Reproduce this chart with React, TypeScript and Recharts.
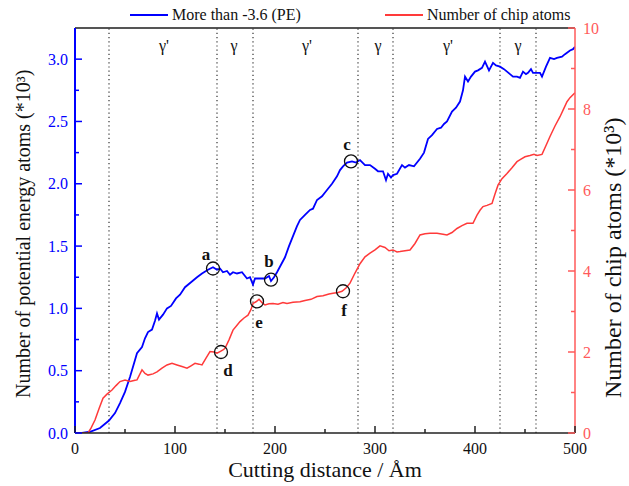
import React from "react";
import {
  LineChart,
  Line,
  XAxis,
  YAxis,
  ReferenceLine,
  ReferenceDot,
  Legend,
} from "recharts";

// cutting distance (Å) vs PE atoms (*10^3), left axis
const peDistance = [
  0, 7, 15, 25, 34, 40, 45, 50, 55, 62, 67, 70, 73, 77, 80, 82, 84, 88, 92, 96,
  101, 105, 110, 116, 122, 127, 133, 138, 142, 145, 148, 152, 155, 158, 162,
  167, 170, 172, 175, 178, 180, 185, 190, 194, 196, 199, 202, 206, 210, 214,
  218, 222, 225, 230, 235, 238, 242, 247, 252, 257, 262, 265, 268, 272, 277,
  281, 285, 290, 295, 300, 303, 308, 311, 313, 316, 318, 322, 327, 330, 334,
  339, 345, 349, 353, 357, 362, 366, 369, 372, 377, 381, 385, 388, 390, 393,
  396, 400, 403, 407, 410, 414, 418, 421, 425, 429, 432, 435, 438, 442, 445,
  448, 451, 453, 456, 458, 460, 465, 467, 471, 475, 479, 482, 487, 490, 495,
  498, 500,
];
const peAtoms = [
  0, 0, 0.01, 0.04, 0.1, 0.16, 0.24, 0.33, 0.45, 0.64, 0.69, 0.76, 0.81, 0.83,
  0.9, 0.96, 0.91, 0.95, 1.0, 1.02, 1.08, 1.11, 1.17, 1.21, 1.25, 1.28, 1.31,
  1.33, 1.31, 1.32, 1.29, 1.3, 1.27, 1.29, 1.28, 1.29, 1.26, 1.24, 1.25, 1.19,
  1.24, 1.24, 1.24, 1.26, 1.22, 1.25, 1.29, 1.35, 1.41, 1.5, 1.58, 1.66, 1.71,
  1.75, 1.79, 1.8, 1.87, 1.9, 1.95, 2.0, 2.06, 2.11, 2.14, 2.17, 2.18, 2.17,
  2.19, 2.15, 2.15, 2.12, 2.1, 2.1, 2.03, 2.08, 2.05, 2.07, 2.08, 2.15, 2.13,
  2.15, 2.14, 2.2, 2.25, 2.36, 2.39, 2.44, 2.45, 2.48, 2.5, 2.58, 2.61, 2.66,
  2.75, 2.86, 2.82, 2.86, 2.9, 2.91, 2.93, 2.98, 2.91, 2.97, 2.95, 2.94, 2.92,
  2.9, 2.88, 2.86, 2.86, 2.85, 2.9, 2.88, 2.89, 2.92, 2.89, 2.89, 2.89, 2.86,
  2.94, 3.01, 3.0, 3.01, 3.02, 3.04, 3.07, 3.08, 3.1,
];

// cutting distance (Å) vs chip atoms (*10^3), right axis
const chipDistance = [
  0, 13, 16, 20, 24, 28, 32, 37, 41, 45, 50, 55, 60, 62, 67, 70, 73, 78, 82, 87,
  92, 97, 102, 107, 112, 116, 120, 124, 127, 131, 135, 139, 142, 145, 148, 150,
  154, 158, 162, 165, 169, 173, 176, 178, 181, 184, 187, 190, 194, 198, 203,
  208, 212, 218, 225, 230, 236, 242, 248, 254, 258, 263, 267, 271, 275, 280,
  285, 290, 295, 300, 305, 310, 314, 318, 322, 325, 330, 335, 340, 345, 350,
  355, 362, 368, 372, 377, 382, 387, 392, 398, 402, 405, 408, 412, 417, 420,
  423, 427, 432, 437, 442, 446, 450, 455, 459, 462, 467, 471, 475, 480, 485,
  489, 492, 495, 500,
];
const chipAtoms = [
  0, 0, 0.12, 0.32, 0.6, 0.86, 0.96, 1.06, 1.17, 1.27, 1.31, 1.27, 1.3, 1.31,
  1.56, 1.47, 1.43, 1.46, 1.51, 1.6, 1.68, 1.72, 1.68, 1.64, 1.6, 1.66, 1.72,
  1.7, 1.68, 1.85, 2.01, 2.0, 1.97, 2.01, 2.05, 2.09, 2.3, 2.54, 2.66, 2.75,
  2.84, 2.91, 3.05, 3.2, 3.24, 3.3, 3.22, 3.16, 3.19, 3.2, 3.18, 3.22, 3.2, 3.23,
  3.24, 3.27, 3.3, 3.37, 3.39, 3.43, 3.45, 3.47, 3.5, 3.58, 3.7, 3.95, 4.18,
  4.35, 4.44, 4.52, 4.62, 4.58, 4.5, 4.52, 4.47, 4.48, 4.5, 4.52, 4.68, 4.89,
  4.92, 4.93, 4.93, 4.91, 4.89, 4.95, 5.05, 5.12, 5.18, 5.18, 5.38, 5.5, 5.59,
  5.62, 5.67, 5.9, 6.12, 6.28, 6.41, 6.55, 6.7, 6.76, 6.82, 6.85, 6.88, 6.85,
  6.88, 7.1, 7.32, 7.58, 7.81, 8.02, 8.18, 8.28, 8.4,
];

// phase boundaries and labels
const phaseBounds = [34, 142, 178, 283, 318, 425, 461];
const phaseNames = ["γ'", "γ", "γ'", "γ", "γ'", "γ"];
const phaseCenters = [89, 159, 232, 303, 373, 443];

// circled points
const markLetters = ["a", "b", "c", "d", "e", "f"];
const markX = [138, 196, 276, 146, 182, 268];
const markY = [1.32, 1.23, 2.18, 2.0, 3.25, 3.5];
const markAxis = ["left", "left", "left", "right", "right", "right"];

const xTicks = [0, 50, 100, 150, 200, 250, 300, 350, 400, 450, 500];
const leftTicks = [0, 0.25, 0.5, 0.75, 1, 1.25, 1.5, 1.75, 2, 2.25, 2.5, 2.75, 3];
const rightTicks = [0, 1, 2, 3, 4, 5, 6, 7, 8, 9, 10];

const peData = peDistance.map((x, i) => ({ x, pe: peAtoms[i] }));
const chipData = chipDistance.map((x, i) => ({ x, chip: chipAtoms[i] }));

const FONT = "'Liberation Serif', 'Times New Roman', serif";
const BLUE = "#0000ff";
const RED = "#ff3a3a";
const AXIS_RED = "#ff5a5a";

// label offsets (px) relative to each circle
const labelDx = [-7, -2, -4, 7, 2, 1];
const labelDy = [-14, -19, -17, 18, 21, 19];

const LeftTick = (props: any) => {
  const { x, y, payload } = props;
  const v = payload.value;
  const major = Math.abs(v * 2 - Math.round(v * 2)) < 1e-6;
  return (
    <g>
      <line x1={x} x2={x + (major ? 7 : 4)} y1={y} y2={y} stroke={BLUE} strokeWidth={1.5} />
      {major && (
        <text x={x - 7} y={y} dy="0.35em" textAnchor="end" fill={BLUE} fontSize={16} fontFamily={FONT}>
          {v.toFixed(1)}
        </text>
      )}
    </g>
  );
};

const RightTick = (props: any) => {
  const { x, y, payload } = props;
  const v = payload.value;
  const major = v % 2 === 0;
  return (
    <g>
      <line x1={x} x2={x - (major ? 7 : 4)} y1={y} y2={y} stroke={AXIS_RED} strokeWidth={1.5} />
      {major && (
        <text x={x + 8} y={y} dy="0.35em" textAnchor="start" fill={AXIS_RED} fontSize={16} fontFamily={FONT}>
          {v}
        </text>
      )}
    </g>
  );
};

const BottomTick = (props: any) => {
  const { x, y, payload } = props;
  const v = payload.value;
  const major = v % 100 === 0;
  return (
    <g>
      <line x1={x} x2={x} y1={y} y2={y - (major ? 7 : 4)} stroke="#222" strokeWidth={1.5} />
      {major && (
        <text x={x} y={y + 15} dy="0.35em" textAnchor="middle" fill="#111" fontSize={16} fontFamily={FONT}>
          {v}
        </text>
      )}
    </g>
  );
};

const LegendBox = () => (
  <div style={{ position: "relative", height: 22, fontFamily: FONT, fontSize: 16, color: "#111" }}>
    <div style={{ position: "absolute", left: 130, top: 0, display: "flex", alignItems: "center" }}>
      <span style={{ width: 38, height: 2, background: BLUE, marginRight: 4 }} />
      <span>More than -3.6 (PE)</span>
    </div>
    <div style={{ position: "absolute", left: 385, top: 0, display: "flex", alignItems: "center" }}>
      <span style={{ width: 38, height: 2, background: RED, marginRight: 4 }} />
      <span>Number of chip atoms</span>
    </div>
  </div>
);

export default function App() {
  return (
    <div style={{ position: "absolute", left: 0, top: 0, background: "#fff" }}>
      <LineChart width={629} height={486} margin={{ top: 28, right: 0, bottom: 0, left: 0 }}>
        <XAxis
          dataKey="x"
          type="number"
          domain={[0, 500]}
          ticks={xTicks}
          interval={0}
          height={53}
          tickSize={0}
          tickMargin={0}
          tickLine={false}
          tick={<BottomTick />}
          axisLine={{ stroke: "#222", strokeWidth: 1.5 }}
          allowDataOverflow
          label={{
            content: (p: any) => (
              <text
                x={p.viewBox.x + p.viewBox.width / 2}
                y={p.viewBox.y + 44}
                textAnchor="middle"
                fontSize={22}
                fontFamily={FONT}
                fill="#111"
              >
                Cutting distance / Åm
              </text>
            ),
          }}
        />
        <YAxis
          yAxisId="left"
          orientation="left"
          domain={[0, 3.25]}
          ticks={leftTicks}
          interval={0}
          width={75}
          tickSize={0}
          tickMargin={0}
          tickLine={false}
          tick={<LeftTick />}
          axisLine={{ stroke: BLUE, strokeWidth: 2 }}
          allowDataOverflow
          label={{
            content: (p: any) => {
              const cx = p.viewBox.x + 30;
              const cy = 398;
              return (
                <text
                  x={cx}
                  y={cy}
                  transform={`rotate(-90 ${cx} ${cy})`}
                  textAnchor="start"
                  fontSize={20}
                  fontFamily={FONT}
                  fill="#111"
                >
                  Number of potential energy atoms  (*10³)
                </text>
              );
            },
          }}
        />
        <YAxis
          yAxisId="right"
          orientation="right"
          domain={[0, 10]}
          ticks={rightTicks}
          interval={0}
          width={54}
          tickSize={0}
          tickMargin={0}
          tickLine={false}
          tick={<RightTick />}
          axisLine={{ stroke: AXIS_RED, strokeWidth: 1.5 }}
          allowDataOverflow
          label={{
            content: (p: any) => {
              const cx = p.viewBox.x + 46;
              const cy = 398;
              return (
                <text
                  x={cx}
                  y={cy}
                  transform={`rotate(-90 ${cx} ${cy})`}
                  textAnchor="start"
                  fontSize={24}
                  fontFamily={FONT}
                  fill="#111"
                >
                  Number of chip atoms (*10³)
                </text>
              );
            },
          }}
        />
        <Legend
          layout="horizontal"
          verticalAlign="middle"
          align="center"
          wrapperStyle={{ top: 6, left: 0, width: 629 }}
          content={<LegendBox />}
        />

        <ReferenceLine yAxisId="left" y={3.25} stroke="#555" strokeWidth={2} ifOverflow="visible" />
        {phaseBounds.map((b) => (
          <ReferenceLine
            key={b}
            yAxisId="left"
            x={b}
            stroke="#333"
            strokeWidth={1.2}
            strokeDasharray="1.2 3"
          />
        ))}
        {phaseNames.map((name, i) => (
          <ReferenceDot
            key={`ph${i}`}
            yAxisId="left"
            x={phaseCenters[i]}
            y={3.11}
            r={0}
            shape={(p: any) => (
              <text x={p.cx} y={p.cy} dy="0.35em" textAnchor="middle" fontSize={16} fontFamily={FONT} fill="#111">
                {name}
              </text>
            )}
          />
        ))}

        <Line
          data={peData}
          yAxisId="left"
          dataKey="pe"
          type="linear"
          stroke={BLUE}
          strokeWidth={1.8}
          dot={false}
          isAnimationActive={false}
          name="More than -3.6 (PE)"
        />
        <Line
          data={chipData}
          yAxisId="right"
          dataKey="chip"
          type="linear"
          stroke={RED}
          strokeWidth={1.5}
          dot={false}
          isAnimationActive={false}
          name="Number of chip atoms"
        />

        {markLetters.map((letter, i) => (
          <ReferenceDot
            key={letter}
            yAxisId={markAxis[i]}
            x={markX[i]}
            y={markY[i]}
            r={6.5}
            shape={(p: any) => (
              <g>
                <circle cx={p.cx} cy={p.cy} r={6.5} fill="none" stroke="#111" strokeWidth={1.3} />
                <text
                  x={p.cx + labelDx[i]}
                  y={p.cy + labelDy[i]}
                  dy="0.35em"
                  textAnchor="middle"
                  fontSize={17}
                  fontWeight="bold"
                  fontFamily={FONT}
                  fill="#111"
                >
                  {letter}
                </text>
              </g>
            )}
          />
        ))}
      </LineChart>
    </div>
  );
}
